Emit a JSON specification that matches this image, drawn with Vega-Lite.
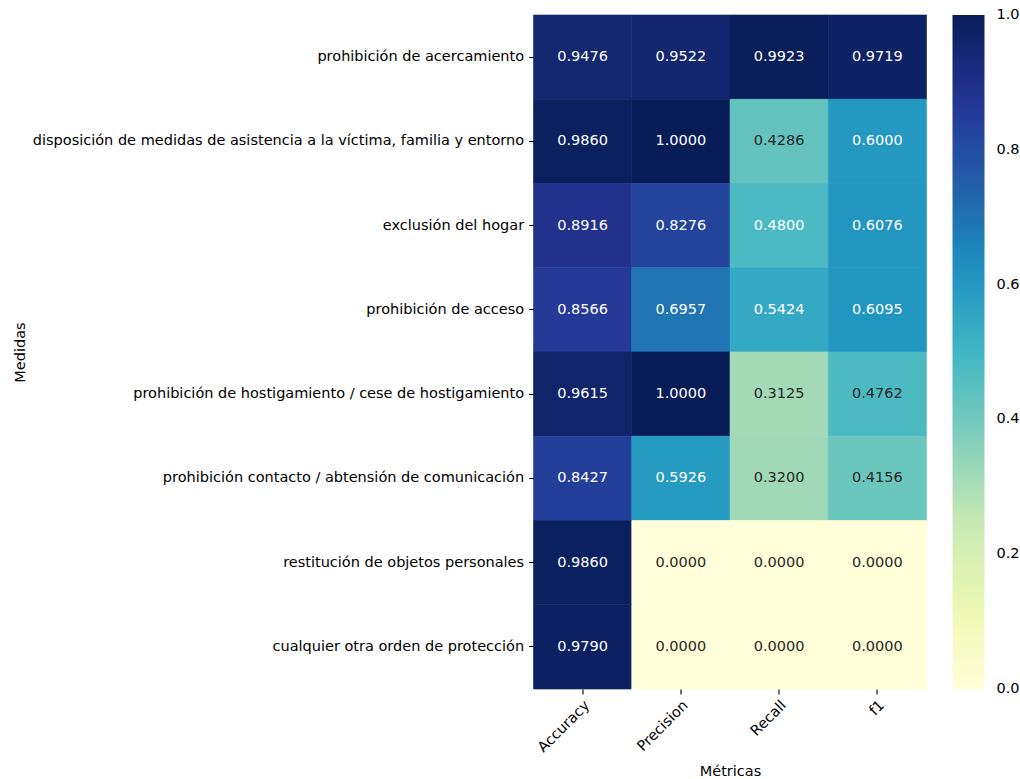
{
  "$schema": "https://vega.github.io/schema/vega-lite/v6.json",
  "autosize": {"type": "none"},
  "padding": {"left": 533.5, "top": 15, "right": 93.5, "bottom": 90},
  "width": 393,
  "height": 674,
  "background": "white",
  "config": {
    "font": "DejaVu Sans",
    "view": {"stroke": null},
    "axis": {
      "labelFont": "DejaVu Sans", "labelFontSize": 14.5, "labelColor": "#000000",
      "titleFont": "DejaVu Sans", "titleFontSize": 14.5, "titleColor": "#000000", "titleFontWeight": "normal",
      "domain": false, "grid": false, "tickColor": "#000000", "tickWidth": 1.1, "tickSize": 4.9
    }
  },
  "data": {
    "values": [
      {"medida": "prohibición de acercamiento", "metrica": "Accuracy", "valor": 0.9476},
      {"medida": "prohibición de acercamiento", "metrica": "Precision", "valor": 0.9522},
      {"medida": "prohibición de acercamiento", "metrica": "Recall", "valor": 0.9923},
      {"medida": "prohibición de acercamiento", "metrica": "f1", "valor": 0.9719},
      {"medida": "disposición de medidas de asistencia a la víctima, familia y entorno", "metrica": "Accuracy", "valor": 0.9860},
      {"medida": "disposición de medidas de asistencia a la víctima, familia y entorno", "metrica": "Precision", "valor": 1.0},
      {"medida": "disposición de medidas de asistencia a la víctima, familia y entorno", "metrica": "Recall", "valor": 0.4286},
      {"medida": "disposición de medidas de asistencia a la víctima, familia y entorno", "metrica": "f1", "valor": 0.6000},
      {"medida": "exclusión del hogar", "metrica": "Accuracy", "valor": 0.8916},
      {"medida": "exclusión del hogar", "metrica": "Precision", "valor": 0.8276},
      {"medida": "exclusión del hogar", "metrica": "Recall", "valor": 0.4800},
      {"medida": "exclusión del hogar", "metrica": "f1", "valor": 0.6076},
      {"medida": "prohibición de acceso", "metrica": "Accuracy", "valor": 0.8566},
      {"medida": "prohibición de acceso", "metrica": "Precision", "valor": 0.6957},
      {"medida": "prohibición de acceso", "metrica": "Recall", "valor": 0.5424},
      {"medida": "prohibición de acceso", "metrica": "f1", "valor": 0.6095},
      {"medida": "prohibición de hostigamiento / cese de hostigamiento", "metrica": "Accuracy", "valor": 0.9615},
      {"medida": "prohibición de hostigamiento / cese de hostigamiento", "metrica": "Precision", "valor": 1.0},
      {"medida": "prohibición de hostigamiento / cese de hostigamiento", "metrica": "Recall", "valor": 0.3125},
      {"medida": "prohibición de hostigamiento / cese de hostigamiento", "metrica": "f1", "valor": 0.4762},
      {"medida": "prohibición contacto / abtensión de comunicación", "metrica": "Accuracy", "valor": 0.8427},
      {"medida": "prohibición contacto / abtensión de comunicación", "metrica": "Precision", "valor": 0.5926},
      {"medida": "prohibición contacto / abtensión de comunicación", "metrica": "Recall", "valor": 0.3200},
      {"medida": "prohibición contacto / abtensión de comunicación", "metrica": "f1", "valor": 0.4156},
      {"medida": "restitución de objetos personales", "metrica": "Accuracy", "valor": 0.9860},
      {"medida": "restitución de objetos personales", "metrica": "Precision", "valor": 0.0},
      {"medida": "restitución de objetos personales", "metrica": "Recall", "valor": 0.0},
      {"medida": "restitución de objetos personales", "metrica": "f1", "valor": 0.0},
      {"medida": "cualquier otra orden de protección", "metrica": "Accuracy", "valor": 0.9790},
      {"medida": "cualquier otra orden de protección", "metrica": "Precision", "valor": 0.0},
      {"medida": "cualquier otra orden de protección", "metrica": "Recall", "valor": 0.0},
      {"medida": "cualquier otra orden de protección", "metrica": "f1", "valor": 0.0}
    ]
  },
  "encoding": {
    "x": {
      "field": "metrica", "type": "nominal", "sort": ["Accuracy", "Precision", "Recall", "f1"],
      "scale": {"paddingInner": 0, "paddingOuter": 0},
      "axis": {"title": "Métricas", "labelAngle": -45, "labelAlign": "right", "labelBaseline": "top", "labelPadding": 4,
               "titleX": 196.5, "titleY": 86.5, "titleBaseline": "alphabetic", "titleAlign": "center"}
    },
    "y": {
      "field": "medida", "type": "nominal",
      "sort": ["prohibición de acercamiento", "disposición de medidas de asistencia a la víctima, familia y entorno", "exclusión del hogar", "prohibición de acceso", "prohibición de hostigamiento / cese de hostigamiento", "prohibición contacto / abtensión de comunicación", "restitución de objetos personales", "cualquier otra orden de protección"],
      "scale": {"paddingInner": 0, "paddingOuter": 0},
      "axis": {"title": "Medidas", "labelLimit": 700, "labelPadding": 5,
               "titleX": -509.5, "titleY": 337, "titleAngle": -90, "titleBaseline": "alphabetic", "titleAlign": "center"}
    }
  },
  "resolve": {"scale": {"stroke": "independent"}},
  "layer": [
    {
      "mark": {"type": "rect", "strokeWidth": 0.6},
      "encoding": {
        "color": {
          "field": "valor", "type": "quantitative",
          "scale": {
            "domain": [0, 0.125, 0.25, 0.375, 0.5, 0.625, 0.75, 0.875, 1],
            "range": ["#ffffd9", "#edf8b1", "#c7e9b4", "#7fcdbb", "#41b6c4", "#1d91c0", "#225ea8", "#253494", "#081d58"],
            "interpolate": "rgb"
          },
          "legend": {
            "title": null, "orient": "right", "offset": 25.5, "padding": 0,
            "gradientLength": 674, "gradientThickness": 32, "gradientStrokeWidth": 0,
            "values": [0, 0.2, 0.4, 0.6, 0.8, 1.0], "format": ".1f",
            "labelFont": "DejaVu Sans", "labelFontSize": 14.5, "labelColor": "#000000",
            "labelOffset": 12, "labelOverlap": false,
            "encode": {"labels": {"update": {"baseline": {"value": "middle"}}}}
          }
        },
        "stroke": {
          "field": "valor", "type": "quantitative",
          "scale": {
            "domain": [0, 0.125, 0.25, 0.375, 0.5, 0.625, 0.75, 0.875, 1],
            "range": ["#ffffd9", "#edf8b1", "#c7e9b4", "#7fcdbb", "#41b6c4", "#1d91c0", "#225ea8", "#253494", "#081d58"],
            "interpolate": "rgb"
          },
          "legend": null
        }
      }
    },
    {
      "mark": {"type": "text", "font": "DejaVu Sans", "fontSize": 14.5, "align": "center", "baseline": "middle"},
      "encoding": {
        "text": {"field": "valor", "type": "quantitative", "format": ".4f"},
        "color": {
          "condition": {"test": "datum.valor >= 0.478", "value": "#ffffff"},
          "value": "#262626"
        }
      }
    }
  ]
}
